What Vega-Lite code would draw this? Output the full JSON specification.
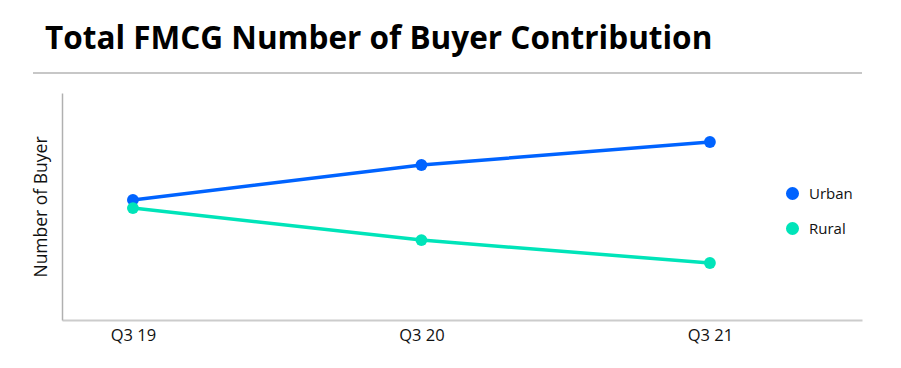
{
  "$schema": "https://vega.github.io/schema/vega-lite/v6.json",
  "background": "white",
  "padding": {"left": 32, "top": 23, "right": 0, "bottom": 0},
  "title": {"text": "Total FMCG Number of Buyer Contribution", "anchor": "start", "fontSize": 31.5, "font": "Open Sans", "fontWeight": "bold", "color": "#000000", "dx": 13, "offset": 17},
  "config": {"view": {"stroke": null}, "font": "Open Sans"},
  "spacing": 19,
  "vconcat": [
    {
      "width": 800,
      "height": 1,
      "data": {"values": [{}]},
      "mark": {"type": "rule", "color": "#b5b5b5", "strokeWidth": 1.5},
      "encoding": {
        "x": {"datum": -29, "type": "quantitative", "scale": {"domain": [0, 800]}, "axis": null},
        "x2": {"datum": 800},
        "y": {"datum": 1, "type": "quantitative", "scale": {"domain": [0, 1]}, "axis": null}
      }
    },
    {
      "width": 800,
      "height": 227,
      "data": {"values": [
        {"quarter": "Q3 19", "area": "Urban", "buyers": 52.9},
        {"quarter": "Q3 20", "area": "Urban", "buyers": 68.3},
        {"quarter": "Q3 21", "area": "Urban", "buyers": 78.4},
        {"quarter": "Q3 19", "area": "Rural", "buyers": 49.3},
        {"quarter": "Q3 20", "area": "Rural", "buyers": 35.2},
        {"quarter": "Q3 21", "area": "Rural", "buyers": 25.1}
      ]},
      "mark": {"type": "line", "strokeWidth": 3.5, "point": {"filled": true, "size": 140, "opacity": 1}},
      "encoding": {
        "x": {"field": "quarter", "type": "ordinal", "sort": ["Q3 19", "Q3 20", "Q3 21"],
          "scale": {"type": "point", "padding": 0.3865, "align": 0.318},
          "axis": {"title": null, "labelAngle": 0, "labelFontSize": 16.5, "labelColor": "#111111", "labelPadding": 7, "ticks": false, "domainColor": "#cccccc", "domainWidth": 2, "grid": false}},
        "y": {"field": "buyers", "type": "quantitative", "scale": {"domain": [0, 100]},
          "axis": {"title": "Number of Buyer", "titleFontSize": 17.5, "titleFontWeight": "normal", "titleColor": "#111111", "labels": false, "ticks": false, "grid": false, "domainColor": "#b0b0b0", "domainWidth": 1.5, "titlePadding": 12}},
        "color": {"field": "area", "type": "nominal",
          "scale": {"domain": ["Urban", "Rural"], "range": ["#0063ff", "#00e4b9"]},
          "legend": {"title": null, "orient": "none", "legendX": 723, "legendY": 113, "symbolType": "circle", "symbolSize": 170, "symbolStrokeWidth": 0, "labelFontSize": 15, "rowPadding": 19, "labelOffset": 9, "labelColor": "#111111"}}
      }
    }
  ]
}
